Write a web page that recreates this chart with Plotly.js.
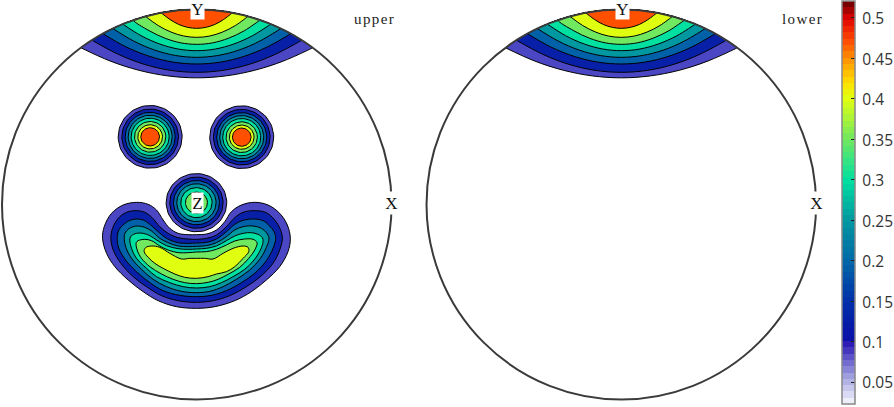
<!DOCTYPE html>
<html><head><meta charset="utf-8">
<script src="https://cdn.plot.ly/plotly-3.0.1.min.js"></script>
<style>html,body{margin:0;padding:0;background:#fff}#p{width:894px;height:407px}
.annotation-text[data-unformatted="upper"],.annotation-text[data-unformatted="lower"]{letter-spacing:1.4px}</style>
</head><body><div id="p"></div>
<script>
// Contour levels (outer to inner) and their fill colours
const bandColors = ['#4b47c4','#0820a8','#0060a8','#0098a0','#00e0a0','#70e860','#e0ff10','#ff5000'];
const colorbarTicks = [0.05,0.1,0.15,0.2,0.25,0.3,0.35,0.4,0.45,0.5];
const colorbarMin = 0.0228, colorbarMax = 0.521;
const colorbarStops = [[0.0228,'#f8f8ff'],[0.06,'#9a98dc'],[0.098,'#2a18b4'],[0.105,'#0810a8'],[0.15,'#0030a8'],[0.2,'#0068a8'],[0.25,'#0098a0'],[0.3,'#00e0a0'],[0.35,'#70e860'],[0.4,'#e0ff10'],[0.42,'#ffe000'],[0.45,'#ff9000'],[0.47,'#ff5000'],[0.5,'#e00000'],[0.521,'#600000']];

// Disc radius in plot units (1 unit = 1/3 px)
const R = 585;

// Y-pole cap: half-chord x and y of each contour, outer to inner
const capX = [
 [348,261,174,87,0],[315,236,158,79,0],[282,212,141,71,0],[252,189,126,63,0],
 [222,167,111,56,0],[190,143,95,48,0],[154,116,77,39,0],[107,80,54,27,0]];
const capY = [
 [-470.2,-430.8,-402.7,-385.8,-380],[-492.9,-450.7,-420.6,-402.5,-396.5],
 [-512.5,-472.7,-444.2,-427.2,-421.5],[-527.9,-490.1,-463.1,-446.9,-441.5],
 [-541.2,-506.3,-481.4,-466.5,-461.5],[-553.3,-521.4,-498.7,-485,-480.5],
 [-564.4,-536.9,-517.2,-505.4,-501.5],[-575.1,-554.7,-540.1,-531.4,-528.5]];

// Concentric poles: centres and contour radii, outer to inner
const poleLeftCentre = [-140,-203], poleRightCentre = [135,-202], poleZCentre = [-1,-5.5];
const poleRadii = [96,85,75,66,57,47,37,28];
const poleZRadii = [91,80,69,59,47,33];

// Lower kidney-shaped contours, read as [x,y] around the shape, outer to inner
const blobOrigin = [306,103.5];
const blobCurves = [
 [[23,205],[28,170],[50,130],[85,105],[125,97],[160,103],[185,120],[205,150],[225,175],[250,190],[280,194],[305,194],[335,192],[365,180],[390,155],[410,125],[440,105],[480,97],[520,105],[555,130],[578,165],[587,205],[580,245],[555,290],[515,330],[470,365],[420,392],[360,410],[305,415],[245,410],[190,392],[145,365],[100,330],[60,290],[35,250]],
 [[48,205],[53,175],[70,145],[95,127],[125,122],[150,127],[172,143],[195,170],[220,190],[250,203],[280,207],[305,208],[335,205],[365,195],[395,170],[420,143],[445,127],[480,122],[515,128],[540,150],[557,178],[563,205],[555,240],[535,280],[497,320],[455,350],[405,377],[355,392],[305,397],[250,392],[200,377],[155,350],[115,320],[78,280],[55,240]],
 [[67,205],[72,180],[88,162],[105,151],[125,147],[145,150],[165,163],[190,185],[215,205],[250,218],[280,220],[305,219],[335,217],[365,207],[395,185],[420,163],[445,151],[480,147],[505,152],[525,168],[538,185],[543,205],[535,235],[515,272],[480,310],[440,338],[395,362],[350,376],[305,380],[255,376],[205,362],[165,338],[125,305],[92,270],[72,235]],
 [[88,205],[90,190],[100,178],[115,170],[130,168],[150,172],[170,183],[195,205],[220,218],[250,228],[280,230],[305,229],[335,227],[365,218],[395,200],[420,180],[445,170],[475,168],[500,175],[515,188],[523,205],[515,232],[497,265],[465,300],[425,328],[385,350],[345,364],[305,368],[260,364],[215,350],[175,328],[140,298],[110,265],[93,232]],
 [[105,207],[110,197],[125,190],[145,190],[165,197],[190,213],[215,227],[250,236],[280,238],[305,237],[335,235],[365,228],[395,212],[420,198],[445,190],[470,188],[490,193],[503,203],[505,215],[497,240],[478,270],[450,298],[415,320],[380,338],[345,350],[305,354],[265,350],[225,338],[185,320],[155,295],[125,265],[110,235]],
 [[124,218],[130,212],[150,208],[170,212],[195,228],[220,240],[250,248],[280,248],[305,246],[335,245],[365,238],[395,225],[420,213],[450,207],[475,208],[487,218],[480,240],[462,265],[435,292],[400,313],[370,328],[340,337],[305,341],[270,338],[235,328],[200,312],[165,290],[140,265],[127,240]],
 [[148,245],[152,233],[170,228],[195,232],[225,250],[260,267],[285,265],[305,265],[330,265],[355,267],[385,250],[415,235],[445,228],[460,232],[462,245],[445,265],[420,290],[395,305],[365,312],[340,320],[305,325],[270,322],[240,312],[205,295],[180,280],[160,262]]
];

// Traces -------------------------------------------------------------
const traces = [];
function addBand(xs, ys, level, xa, ya, curved){
  traces.push({type:'scatter',mode:'lines',x:xs,y:ys,xaxis:xa,yaxis:ya,fill:'toself',
    fillcolor:bandColors[level],line:{color:'#000',width:1,shape:curved?'spline':'linear',smoothing:1},hoverinfo:'skip',showlegend:false});
}
// Cap band: contour arc closed along the disc rim
function capBand(i, xa, ya){
  const xs=[], ys=[];
  const hx=capX[i], hy=capY[i];
  for(let k=0;k<hx.length;k++){xs.push(-hx[k]);ys.push(hy[k]);}
  for(let k=hx.length-2;k>=0;k--){xs.push(hx[k]);ys.push(hy[k]);}
  const a0=Math.asin(hx[0]/R);
  for(let k=0;k<=24;k++){const a=a0-2*a0*k/24;xs.push(R*Math.sin(a));ys.push(-R*Math.cos(a));}
  addBand(xs,ys,i,xa,ya,true);
}
function ring(centre, r, level, xa, ya, squash){
  const xs=[], ys=[];
  for(let k=0;k<=72;k++){const a=2*Math.PI*k/72;xs.push(centre[0]+r*Math.cos(a));ys.push(centre[1]+r*squash*Math.sin(a));}
  addBand(xs,ys,level,xa,ya,false);
}
[['x','y'],['x2','y2']].forEach(([xa,ya])=>{ bandColors.forEach((c,i)=>capBand(i,xa,ya)); });
poleRadii.forEach((r,i)=>{ ring(poleLeftCentre,r,i,'x','y',0.98); ring(poleRightCentre,r,i,'x','y',0.98); });
poleZRadii.forEach((r,i)=>ring(poleZCentre,r,i,'x','y',0.96));
blobCurves.forEach((curve,i)=>{
  const xs=curve.map(p=>p[0]-blobOrigin[0]), ys=curve.map(p=>p[1]-blobOrigin[1]);
  xs.push(xs[0]); ys.push(ys[0]);
  addBand(xs,ys,i,'x','y',true);
});

// Stepped colour bar
const steps=64, scale=[];
function lerpStop(v){
  let i=0; while(i<colorbarStops.length-2 && v>colorbarStops[i+1][0]) i++;
  const [a,ca]=colorbarStops[i],[b,cb]=colorbarStops[i+1];
  const t=Math.max(0,Math.min(1,(v-a)/(b-a)));
  const h=s=>[1,3,5].map(j=>parseInt(s.substr(j,2),16));
  const A=h(ca),B=h(cb);
  return 'rgb('+A.map((q,j)=>Math.round(q+(B[j]-q)*t)).join(',')+')';
}
for(let s=0;s<steps;s++){
  const c=lerpStop(colorbarMin+(colorbarMax-colorbarMin)*(s+0.5)/steps);
  scale.push([s/steps,c]);scale.push([(s+1)/steps,c]);
}
traces.push({type:'scatter',mode:'markers',x:[0,0],y:[0,0],xaxis:'x',yaxis:'y',hoverinfo:'skip',showlegend:false,
  marker:{size:1,opacity:0,color:[colorbarMin,colorbarMax],cmin:colorbarMin,cmax:colorbarMax,colorscale:scale,showscale:true,
    colorbar:{thicknessmode:'pixels',thickness:13,lenmode:'pixels',len:403,x:842/894,xanchor:'left',y:1-1/407,yanchor:'top',
      xpad:0,ypad:0,tickmode:'array',tickvals:colorbarTicks,ticktext:colorbarTicks.map(String),ticks:'inside',ticklen:4,tickwidth:1,tickcolor:'#222',
      outlinecolor:'#888',outlinewidth:1.5,borderwidth:0,
      tickfont:{family:'Open Sans',size:15.5,color:'#333'}}}});

const axis=(d,r)=>({domain:d,range:r,visible:false,fixedrange:true});
const serif='Liberation Serif';
const label=(t,x,y,xr,yr,w,h)=>({text:t,x:x,y:y,xref:xr,yref:yr,showarrow:false,bgcolor:'#fff',width:w,height:h,font:{family:serif,size:17,color:'#111'},xanchor:'center',yanchor:'middle',borderpad:0});
const layout={
  width:894,height:407,margin:{l:0,r:0,t:0,b:0},paper_bgcolor:'#fff',plot_bgcolor:'rgba(0,0,0,0)',showlegend:false,
  xaxis:axis([0,410/894],[-591,639]),yaxis:axis([0,1],[607.5,-613.5]),
  xaxis2:axis([415/894,825/894],[-621,609]),yaxis2:axis([0,1],[607.5,-613.5]),
  shapes:[['x','y'],['x2','y2']].map(([a,b])=>({type:'circle',xref:a,yref:b,x0:-R,x1:R,y0:-R,y1:R,layer:'above',line:{color:'#3a3a3a',width:2}})),
  annotations:[
    label('Y',3,-588,'x','y',13,20),label('X',584,-4,'x','y',13,22),label('Z',3,-5,'x','y',11,20),
    label('Y',3,-588,'x2','y2',13,20),label('X',586,-4,'x2','y2',13,22),
    {text:'upper',x:534,y:-557,xref:'x',yref:'y',showarrow:false,font:{family:serif,size:15,color:'#222'}},
    {text:'lower',x:543,y:-557,xref:'x2',yref:'y2',showarrow:false,font:{family:serif,size:15,color:'#222'}}
  ]
};
Plotly.newPlot('p',traces,layout,{displayModeBar:false,staticPlot:true}).then(()=>{
  document.querySelectorAll('.colorbar text').forEach(t=>{t.setAttribute('dx','3');t.setAttribute('dy','1');});
});
</script></body></html>
